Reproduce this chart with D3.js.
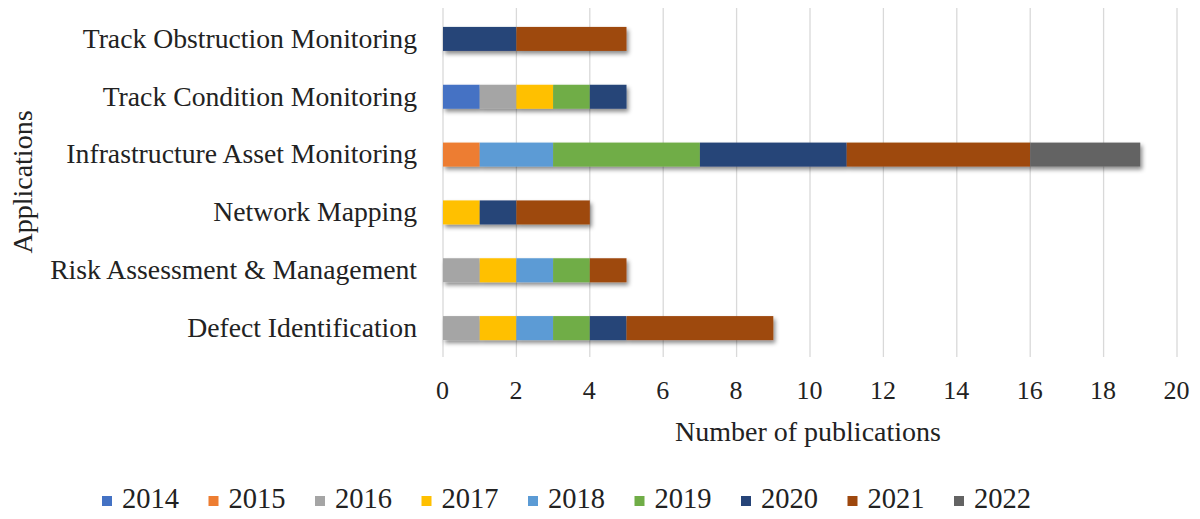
<!DOCTYPE html>
<html>
<head>
<meta charset="utf-8">
<script src="https://cdn.jsdelivr.net/npm/d3@7"></script>
<style>
  html, body { margin: 0; padding: 0; background: #fff; }
  svg { display: block; font-family: "Liberation Serif", "Times New Roman", serif; }
  svg text { font-family: "Liberation Serif", "Times New Roman", serif; }
</style>
</head>
<body>
<svg id="chart" width="1200" height="519"></svg>
<script>
// Applications, listed top to bottom
const categories = [
  "Track Obstruction Monitoring",
  "Track Condition Monitoring",
  "Infrastructure Asset Monitoring",
  "Network Mapping",
  "Risk Assessment & Management",
  "Defect Identification"
];

const years = ["2014", "2015", "2016", "2017", "2018", "2019", "2020", "2021", "2022"];

// Publications per year, one array per application (same order as categories)
const trackObstruction = [0, 0, 0, 0, 0, 0, 2, 3, 0];
const trackCondition   = [1, 0, 1, 1, 0, 1, 1, 0, 0];
const infrastructure   = [0, 1, 0, 0, 2, 4, 4, 5, 3];
const networkMapping   = [0, 0, 0, 1, 0, 0, 1, 2, 0];
const riskAssessment   = [0, 0, 1, 1, 1, 1, 0, 1, 0];
const defectIdent      = [0, 0, 1, 1, 1, 1, 1, 4, 0];

const xTicks = [0, 2, 4, 6, 8, 10, 12, 14, 16, 18, 20];

const yearColors = ["#4472C4", "#ED7D31", "#A5A5A5", "#FFC000", "#5B9BD5",
                    "#70AD47", "#264478", "#9E480E", "#636363"];

const seriesByCategory = [trackObstruction, trackCondition, infrastructure,
                          networkMapping, riskAssessment, defectIdent];

const rows = categories.map((c, i) => {
  const r = { category: c };
  years.forEach((y, j) => r[y] = seriesByCategory[i][j]);
  return r;
});

const svg = d3.select("#chart");

const x = d3.scaleLinear().domain([0, 20]).range([443, 1177]);
const y = d3.scaleBand().domain(categories).range([10, 357]).paddingInner(0.585).paddingOuter(0.2925);
const color = d3.scaleOrdinal().domain(years).range(yearColors);

const defs = svg.append("defs");
const f = defs.append("filter").attr("id", "shadow")
  .attr("x", "-5%").attr("y", "-40%").attr("width", "115%").attr("height", "200%");
f.append("feDropShadow").attr("dx", 2).attr("dy", 3).attr("stdDeviation", 2.2)
  .attr("flood-color", "#000").attr("flood-opacity", 0.45);

// vertical gridlines
svg.append("g")
  .selectAll("line")
  .data(xTicks)
  .join("line")
  .attr("x1", d => x(d)).attr("x2", d => x(d))
  .attr("y1", 8).attr("y2", 357)
  .attr("stroke", "#d9d9d9").attr("stroke-width", 1.3);

// stacked bars
const stacked = d3.stack().keys(years)(rows);
const barGroup = svg.append("g").attr("filter", "url(#shadow)");
stacked.forEach(layer => {
  barGroup.append("g")
    .attr("fill", color(layer.key))
    .selectAll("rect")
    .data(layer.filter(d => d[1] - d[0] > 0))
    .join("rect")
    .attr("x", d => x(d[0]))
    .attr("y", d => y(d.data.category))
    .attr("width", d => x(d[1]) - x(d[0]))
    .attr("height", y.bandwidth());
});

const serif = "Liberation Serif, Times New Roman, serif";

// category labels
const yAxis = d3.axisLeft(y).tickSize(0).tickPadding(26);
const yg = svg.append("g").attr("transform", `translate(${x(0)},0)`).call(yAxis)
  .attr("font-family", serif);
yg.select(".domain").remove();
yg.selectAll("text")
  .attr("font-family", serif)
  .attr("font-size", 27.7).attr("fill", "#222");

// x tick labels
const xAxis = d3.axisBottom(x).tickValues(xTicks).tickSize(0).tickPadding(0).tickFormat(d3.format("d"));
const xg = svg.append("g").attr("transform", "translate(-1,381)").call(xAxis)
  .attr("font-family", serif);
xg.select(".domain").remove();
xg.selectAll("text")
  .attr("font-family", serif)
  .attr("font-size", 26).attr("fill", "#222");

// axis titles
svg.append("text")
  .attr("x", 808).attr("y", 441)
  .attr("text-anchor", "middle")
  .attr("font-family", serif)
  .attr("font-size", 28).attr("fill", "#222")
  .text("Number of publications");

svg.append("text")
  .attr("transform", "translate(32,182) rotate(-90)")
  .attr("text-anchor", "middle")
  .attr("font-family", serif)
  .attr("font-size", 28).attr("fill", "#222")
  .text("Applications");

// legend
const legend = svg.append("g").attr("transform", "translate(102,0)");
const li = legend.selectAll("g").data(years).join("g")
  .attr("transform", (d, i) => `translate(${i * 106.5},0)`);
li.append("rect").attr("x", 0).attr("y", 496).attr("width", 10).attr("height", 10)
  .attr("fill", d => color(d));
li.append("text").attr("x", 20).attr("y", 508)
  .attr("font-family", serif)
  .attr("font-size", 28.5).attr("fill", "#222")
  .text(d => d);
</script>
</body>
</html>
